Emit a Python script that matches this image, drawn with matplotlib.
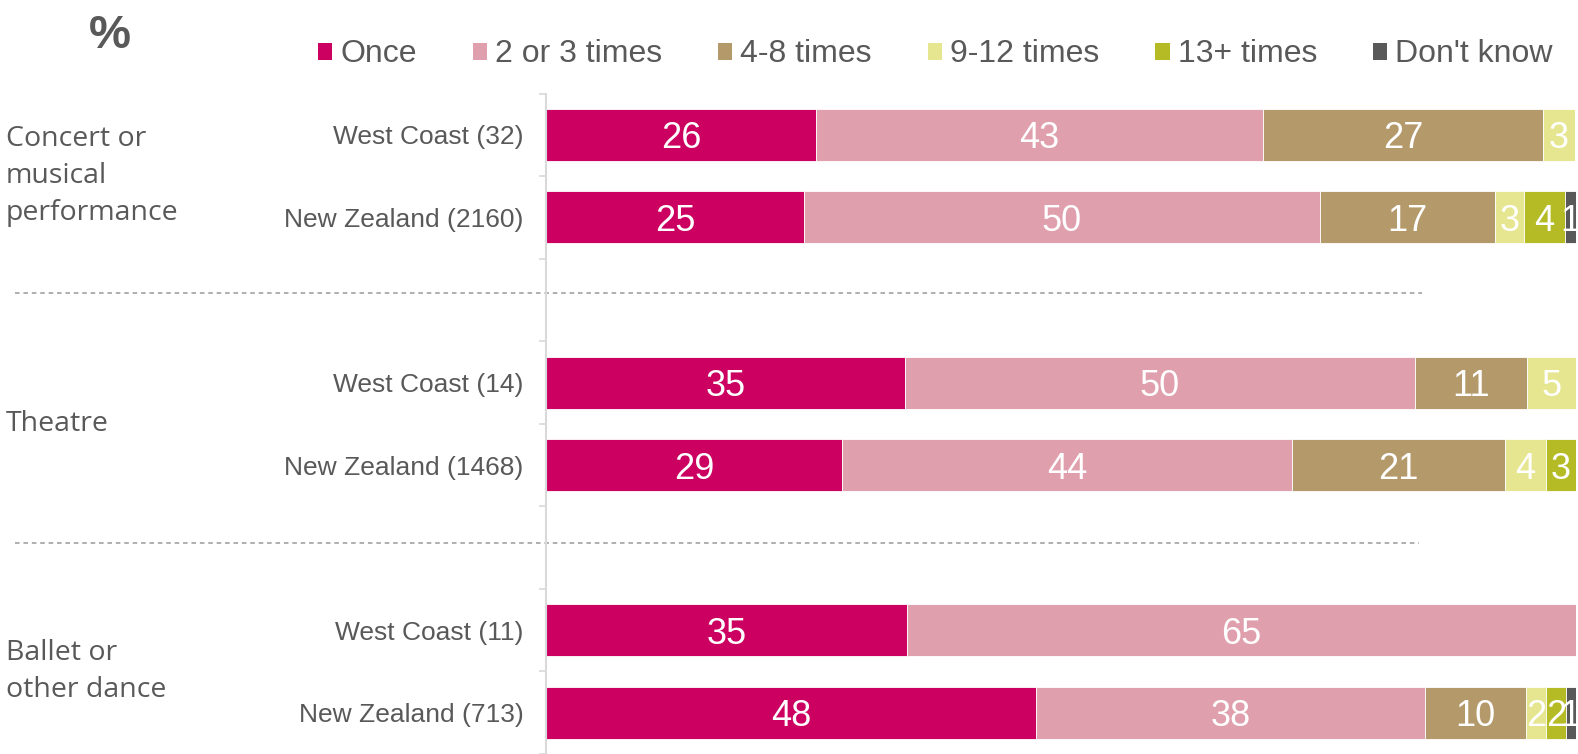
"""
Frequency of attending performing arts events, West Coast vs New Zealand
"""
import numpy
import matplotlib
matplotlib.use('Agg')
import matplotlib.pyplot as plt
from matplotlib.patches import Patch
from matplotlib.transforms import blended_transform_factory

# ---- data (percent) ----
row_labels = ['West Coast (32)', 'New Zealand (2160)',
              'West Coast (14)', 'New Zealand (1468)',
              'West Coast (11)', 'New Zealand (713)']
group_labels = ['Concert or\nmusical\nperformance', 'Theatre',
                'Ballet or\nother dance']
series_names = ['Once', '2 or 3 times', '4-8 times', '9-12 times',
                '13+ times', "Don't know"]

once = [26.2, 25.0, 34.8, 28.7, 35.0, 47.6]
two_three = [43.4, 50.1, 49.6, 43.7, 65.0, 37.7]
four_eight = [27.2, 17.0, 10.8, 20.7, 0.0, 9.8]
nine_twelve = [3.1, 2.9, 4.8, 4.0, 0.0, 2.0]
thirteen_plus = [0.0, 3.9, 0.0, 2.9, 0.0, 1.9]
dont_know = [0.0, 1.1, 0.0, 0.0, 0.0, 1.0]

colors = ['#cc0060', '#e09fad', '#b49a6a', '#e6e690', '#b5bb24', '#595959']

# slot layout: two bars per group, one blank slot between groups
row_pos = [0.5, 1.5, 3.5, 4.5, 6.5, 7.5]
group_pos = [1.0, 4.0, 7.0]
divider_pos = [2.42, 5.45]

TEXT = '#595959'
plt.rcParams['font.family'] = ['Liberation Sans', 'DejaVu Sans']

fig = plt.figure(figsize=(15.78, 7.54), dpi=100)
ax = fig.add_axes([0.3463, 0.0, 0.9987 - 0.3463, 1 - 93.6 / 754])

series = [once, two_three, four_eight, nine_twelve, thirteen_plus, dont_know]
left = numpy.zeros(len(row_pos))
for vals, col, name in zip(series, colors, series_names):
    vals = numpy.array(vals)
    ax.barh(row_pos, vals, left=left, height=0.63, color=col,
            edgecolor='white', linewidth=0.6, label=name)
    for y, l, v in zip(row_pos, left, vals):
        if v > 0:
            ax.text(l + v / 2, y, '{:d}'.format(int(round(v))),
                    ha='center', va='center_baseline', color='white',
                    fontsize=26)
    left += vals

ax.set_xlim(0, 100)
ax.set_ylim(8, 0)
ax.set_xticks([])
for s in ['top', 'right', 'bottom']:
    ax.spines[s].set_visible(False)
ax.spines['left'].set_color('#d9d9d9')
ax.spines['left'].set_linewidth(1.5)

ax.set_yticks(numpy.arange(0, 9))
ax.set_yticklabels([])
ax.tick_params(axis='y', which='major', length=5, width=1.2,
               color='#d9d9d9', direction='out')
ax.set_yticks(row_pos, minor=True)
ax.set_yticklabels(row_labels, minor=True, fontsize=19, color=TEXT)
ax.tick_params(axis='y', which='minor', length=0, pad=16.5)

# group labels in the left margin
trans = blended_transform_factory(fig.transFigure, ax.transData)
for lab, y in zip(group_labels, group_pos):
    ax.text(0.0035, y, lab, transform=trans, ha='left', va='center',
            fontsize=20.5, color=TEXT, family=['Open Sans', 'DejaVu Sans'],
            linespacing=1.42)

# dashed separators between groups
for y, x1 in zip(divider_pos, [0.901, 0.899]):
    ax.plot([0.0096, x1], [y, y], transform=trans, clip_on=False,
            color='#9a9a9a', lw=1.1, dashes=(3, 2.5))

fig.text(0.0695, 1 - 36 / 754, '%', fontsize=34, color=TEXT,
         fontweight='bold', ha='center', va='center')

handles = [Patch(facecolor=c, edgecolor='none') for c in colors]
fig.legend(handles, series_names, loc='center left',
           bbox_to_anchor=(0.2015, 1 - 54.5 / 754), ncol=6, frameon=False,
           fontsize=23, handlelength=0.45, handleheight=0.45,
           handletextpad=0.25, columnspacing=1.75, borderpad=0,
           borderaxespad=0, labelcolor=TEXT)

fig.savefig('out.png', dpi=100)
